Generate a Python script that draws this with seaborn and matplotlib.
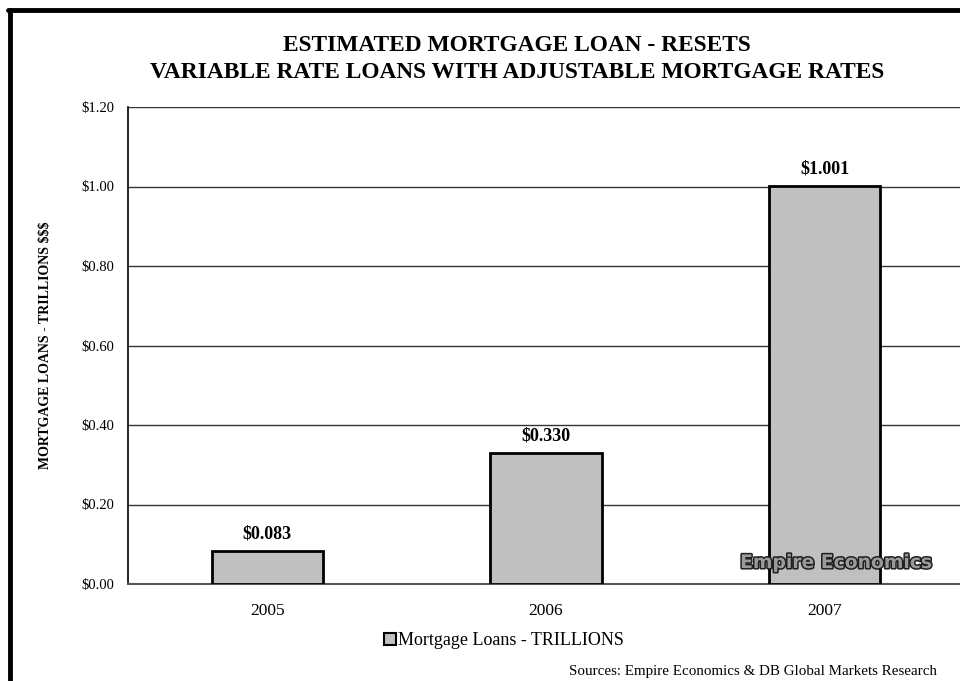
import matplotlib
matplotlib.use("Agg")
import matplotlib.pyplot as plt
import matplotlib.patheffects as pe
from matplotlib.lines import Line2D
import seaborn as sns
import pandas as pd

# Mortgage resets by year (trillions of dollars)
years = ["2005", "2006", "2007"]
loans = [0.083, 0.330, 1.001]
y_ticks = [0.0, 0.2, 0.4, 0.6, 0.8, 1.0, 1.2]
y_tick_labels = ["$0.00", "$0.20", "$0.40", "$0.60", "$0.80", "$1.00", "$1.20"]
series_name = "Mortgage Loans - TRILLIONS"
title_text = ("ESTIMATED MORTGAGE LOAN - RESETS\n"
              "VARIABLE RATE LOANS WITH ADJUSTABLE MORTGAGE RATES")
y_label = "MORTGAGE LOANS - TRILLIONS $$$"
source_text = "Sources: Empire Economics & DB Global Markets Research"
watermark = "Empire Economics"

sns.set_style("white")
plt.rcParams["font.family"] = ["Liberation Serif", "DejaVu Serif"]
plt.rcParams["text.color"] = "black"
plt.rcParams["xtick.color"] = "black"
plt.rcParams["ytick.color"] = "black"
plt.rcParams["axes.labelcolor"] = "black"

df = pd.DataFrame({"year": years, "value": loans, "series": series_name})

fig = plt.figure(figsize=(9.6, 6.81), dpi=100)
fig.patch.set_facecolor("white")
ax = fig.add_axes([128 / 960, 1 - 584 / 681, 836 / 960, 477 / 681])

sns.barplot(data=df, x="year", y="value", hue="series", width=0.4,
            palette=["#C0C0C0"], edgecolor="black", linewidth=2,
            ax=ax, zorder=3, legend=True, saturation=1)

ax.set_xlim(-0.5, 2.5)
ax.set_ylim(0, 1.2)
ax.set_yticks(y_ticks)
ax.set_yticklabels(y_tick_labels, fontsize=10.5)
ax.grid(False)
for t in y_ticks[1:]:
    ax.axhline(t, color="#333333", lw=1, zorder=1)

# Category boundaries carry the x ticks, labels sit at the centres
ax.set_xticks([-0.5, 0.5, 1.5, 2.5], minor=False)
ax.set_xticklabels([])
ax.set_xticks([0, 1, 2], minor=True)
ax.set_xticklabels(years, minor=True, fontsize=12.5)
ax.tick_params(axis="x", which="minor", length=0, pad=14)
ax.tick_params(axis="x", which="major", direction="out", length=6,
               width=1, color="#333333")
ax.tick_params(axis="y", direction="out", length=5, width=1,
               color="#333333", pad=5)
ax.set_xlabel("")
ax.set_ylabel(y_label, fontsize=10, fontweight="bold", labelpad=21)

for side in ["top", "right"]:
    ax.spines[side].set_visible(False)
ax.spines["left"].set_color("black")
ax.spines["left"].set_linewidth(1.2)
ax.spines["bottom"].set_color("#555555")
ax.spines["bottom"].set_linewidth(1.5)

# Value labels above each bar
for i, v in enumerate(loans):
    ax.annotate(f"${v:.3f}", (i, v), xytext=(0, 6), textcoords="offset points",
                ha="center", va="bottom", fontsize=13, fontweight="bold")

# Legend below the axis
leg = ax.legend(loc="upper center",
                bbox_to_anchor=((504 - 128) / 836, -0.082),
                frameon=False, fontsize=13, handlelength=0.65,
                handleheight=0.65, handletextpad=0.15, borderpad=0)
for h in leg.legend_handles:
    h.set_linewidth(1.5)
    h.set_edgecolor("black")

# Title
fig.text(517 / 960, 1 - 59 / 681, title_text, ha="center", va="center",
         fontsize=16.8, fontweight="bold", linespacing=1.35)

# Source note
fig.text(937 / 960, 1 - 671 / 681, source_text, ha="right", va="center",
         fontsize=10.8)

# Outlined brand mark
ax.text((932 - 128) / 836, 0.045, watermark, transform=ax.transAxes,
        ha="right", va="center", fontsize=13.5, fontweight="bold",
        family="DejaVu Sans", color="#9a9a9a", zorder=5,
        path_effects=[pe.withStroke(linewidth=2.2, foreground="#202020")])

# Heavy frame along the left and top edges
fig.add_artist(Line2D([10 / 960, 10 / 960], [0, 1 - 10 / 681],
                      transform=fig.transFigure, color="black", lw=3.5))
fig.add_artist(Line2D([8.2 / 960, 1], [1 - 10 / 681, 1 - 10 / 681],
                      transform=fig.transFigure, color="black", lw=3.5))

fig.savefig("out.png", dpi=100)
